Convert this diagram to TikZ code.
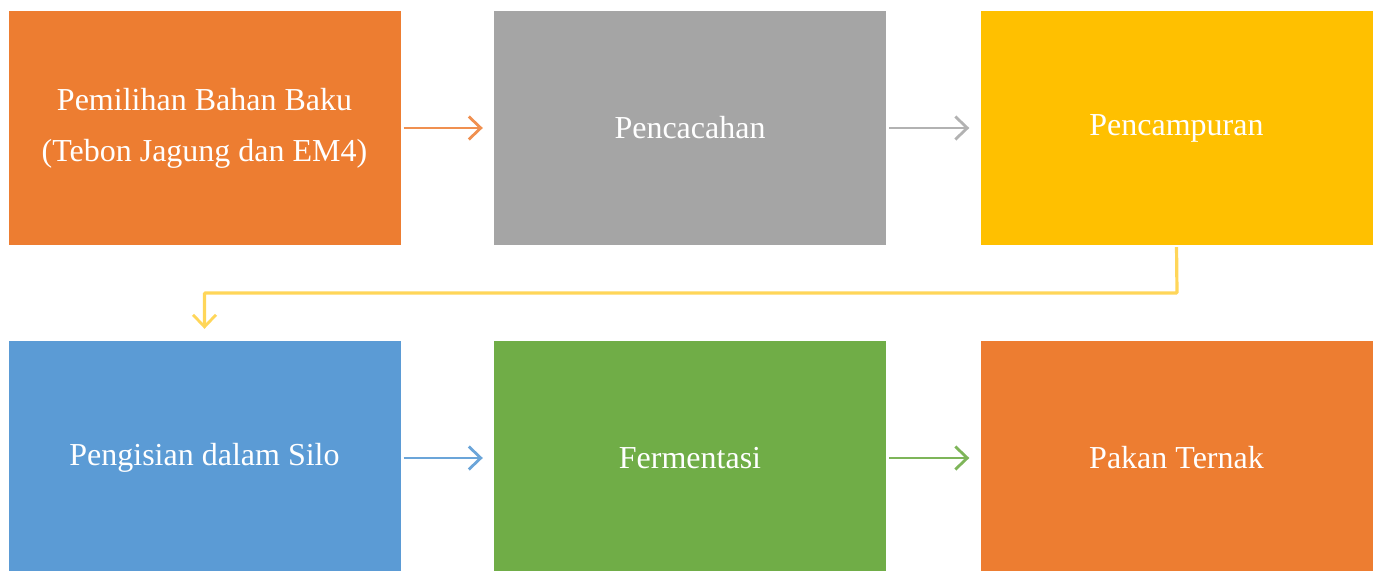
\documentclass[tikz,border=0pt]{standalone}
\usepackage{fontspec}
\setmainfont{Liberation Serif}
\usetikzlibrary{arrows.meta,calc}
\definecolor{b_orange}{RGB}{237, 125, 49}
\definecolor{b_gray}{RGB}{165, 165, 165}
\definecolor{b_yellow}{RGB}{255, 192, 0}
\definecolor{b_blue}{RGB}{91, 155, 213}
\definecolor{b_green}{RGB}{112, 173, 71}
\tikzstyle{box}=[rectangle,draw=none,text=white,align=center,inner sep=0pt,
  minimum width=392pt,minimum height=234pt,font=\fontsize{32}{51}\selectfont]
\tikzstyle{ar}=[line width=2.8pt,shorten <=3pt,shorten >=11pt,
  -{Straight Barb[length=12pt,width=23pt,line width=2.8pt]}]
\tikzstyle{none}=[]

\begin{document}
\begin{tikzpicture}[x=1pt,y=-1pt]
            \useasboundingbox (0, 0) rectangle (1378, 570);
            \node [style=box,fill=b_orange] (0) at (204.5, 128) {Pemilihan Bahan Baku\\(Tebon Jagung dan EM4)};
            \node [style=box,fill=b_gray] (1) at (690, 128) {Pencacahan};
            \node [style=box,fill=b_yellow] (2) at (1176.5, 128) {Pencampuran};
            \node [style=box,fill=b_orange] (5) at (1176.5, 458) {Pakan Ternak};
            \node [style=box,fill=b_blue] (3) at (204.5, 458) {Pengisian dalam Silo};
            \node [style=box,fill=b_green] (4) at (690, 458) {Fermentasi};
            \coordinate (6) at (1177, 293);
            \draw [style=ar,draw=b_orange!85] (0) to (1);
            \draw [style=ar,draw=b_gray!85] (1) to (2);
            \draw [style=ar,draw=b_yellow!65,line width=3.2pt,shorten <=2pt,shorten >=12pt,rounded corners=1pt] (2.south) -- (6) -| (3.north);
            \draw [style=ar,draw=b_blue!90] (3) to (4);
            \draw [style=ar,draw=b_green!90] (4) to (5);
    \end{tikzpicture}
\end{document}
